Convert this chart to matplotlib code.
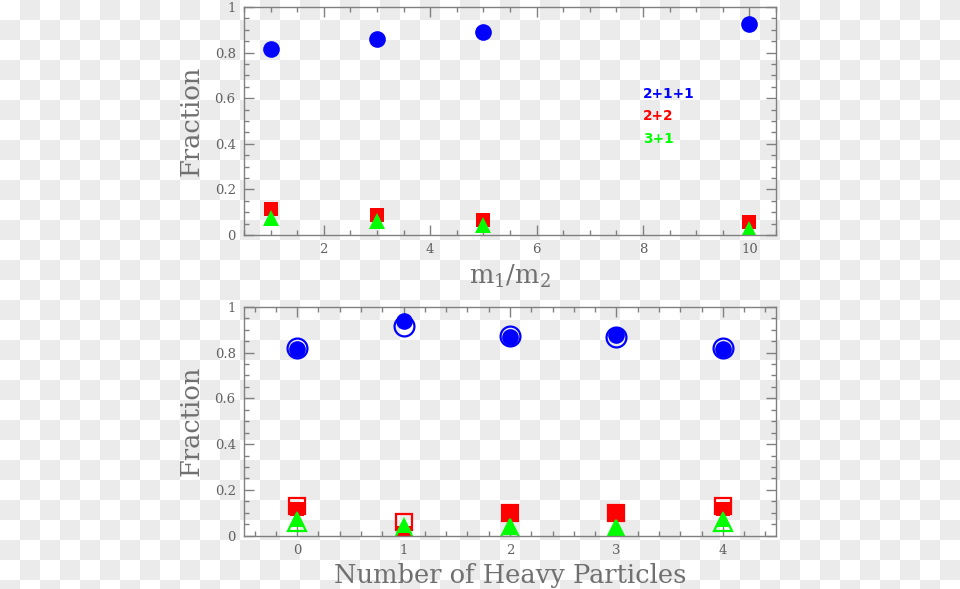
import numpy as np
import matplotlib
matplotlib.use("Agg")
import matplotlib.pyplot as plt
from matplotlib.ticker import MultipleLocator, FuncFormatter

# ---------------- data ----------------
mass_ratio = [1, 3, 5, 10]
top_2p1p1 = [0.814, 0.860, 0.892, 0.924]
top_2p2 = [0.115, 0.086, 0.067, 0.055]
top_3p1 = [0.074, 0.060, 0.042, 0.026]

n_heavy = [0, 1, 2, 3, 4]
bot_2p1p1_filled = [0.815, 0.939, 0.866, 0.876, 0.814]
bot_2p1p1_open = [0.818, 0.916, 0.873, 0.869, 0.818]
bot_2p2_filled = [0.116, 0.010, 0.098, 0.098, 0.117]
bot_2p2_open = [0.129, 0.060, 0.098, 0.098, 0.129]
bot_3p1_filled = [0.072, 0.047, 0.036, 0.032, 0.072]
bot_3p1_open = [0.062, 0.030, 0.033, 0.030, 0.062]

legend_labels = ["2+1+1", "2+2", "3+1"]
BLUE, RED, GREEN = "#0000ff", "#ff0000", "#00ff00"
GREY = "#707070"
FONT = "DejaVu Serif"

W, H = 960, 589
fig = plt.figure(figsize=(W / 100, H / 100), dpi=100)
fig.patch.set_facecolor("white")

# transparency-style checkerboard background
yy, xx = np.indices((H, W))
board = np.where(((xx // 20) + (yy // 20)) % 2 == 0, 1.0, 0.925)
rgb = np.dstack([board, board, board])
fig.figimage(rgb, xo=0, yo=0, origin="upper", zorder=-5)


def fmt(v, pos):
    if abs(v) < 1e-9:
        return "0"
    if abs(v - 1) < 1e-9:
        return "1"
    return f"{v:.1f}"


def style(ax, xmaj, xmin):
    ax.set_facecolor("none")
    for s in ax.spines.values():
        s.set_color("#808080")
        s.set_linewidth(1.0)
    ax.set_ylim(0, 1)
    ax.yaxis.set_major_locator(MultipleLocator(0.2))
    ax.yaxis.set_minor_locator(MultipleLocator(0.05))
    ax.xaxis.set_major_locator(MultipleLocator(xmaj))
    ax.xaxis.set_minor_locator(MultipleLocator(xmin))
    ax.yaxis.set_major_formatter(FuncFormatter(fmt))
    ax.tick_params(which="both", direction="in", top=True, right=True,
                   color="#808080", labelcolor="#606060", labelsize=9.5)
    ax.tick_params(which="major", length=7, width=1, pad=6)
    ax.tick_params(which="minor", length=3.5, width=1)
    for lab in ax.get_xticklabels() + ax.get_yticklabels():
        lab.set_fontfamily(FONT)
    ax.set_ylabel("Fraction", fontsize=18.5, color=GREY, family=FONT, labelpad=8)


# ---------------- top panel ----------------
ax1 = fig.add_axes([244 / W, 1 - 235 / H, 532 / W, 228 / H])
ax1.plot(mass_ratio, top_2p1p1, "o", color=BLUE, ms=12, mew=0)
ax1.plot(mass_ratio, top_2p2, "s", color=RED, ms=10.5, mew=0)
ax1.plot(mass_ratio, top_3p1, "^", color=GREEN, ms=11, mew=0)
ax1.set_xlim(0.5, 10.5)
style(ax1, 2, 0.5)
ax1.set_xlabel(r"$\mathregular{m_1/m_2}$", fontsize=18.5, color=GREY,
               family=FONT, labelpad=5)
for lab, col, yv in zip(legend_labels, [BLUE, RED, GREEN], [0.62, 0.52, 0.42]):
    ax1.text(8.0, yv, lab, color=col, fontsize=9.8, fontweight="bold",
             family="DejaVu Sans", va="center", ha="left")

# ---------------- bottom panel ----------------
ax2 = fig.add_axes([244 / W, 1 - 535.7 / H, 532 / W, 229 / H])
ax2.plot(n_heavy, bot_2p1p1_open, "o", mfc="none", mec=BLUE, ms=14.3, mew=1.6)
ax2.plot(n_heavy, bot_2p1p1_filled, "o", color=BLUE, ms=12, mew=0)
ax2.plot(n_heavy, bot_2p2_open, "s", mfc="none", mec=RED, ms=11.5, mew=1.6)
ax2.plot(n_heavy, bot_2p2_filled, "s", color=RED, ms=10.5, mew=0)
ax2.plot(n_heavy, bot_3p1_open, "^", mfc="none", mec=GREEN, ms=12.5, mew=1.6)
ax2.plot(n_heavy, bot_3p1_filled, "^", color=GREEN, ms=11, mew=0)
ax2.set_xlim(-0.5, 4.5)
style(ax2, 1, 0.2)
ax2.set_xlabel("Number of Heavy Particles", fontsize=18.5, color=GREY,
               family=FONT, labelpad=4)

fig.savefig("out.png", dpi=100)
